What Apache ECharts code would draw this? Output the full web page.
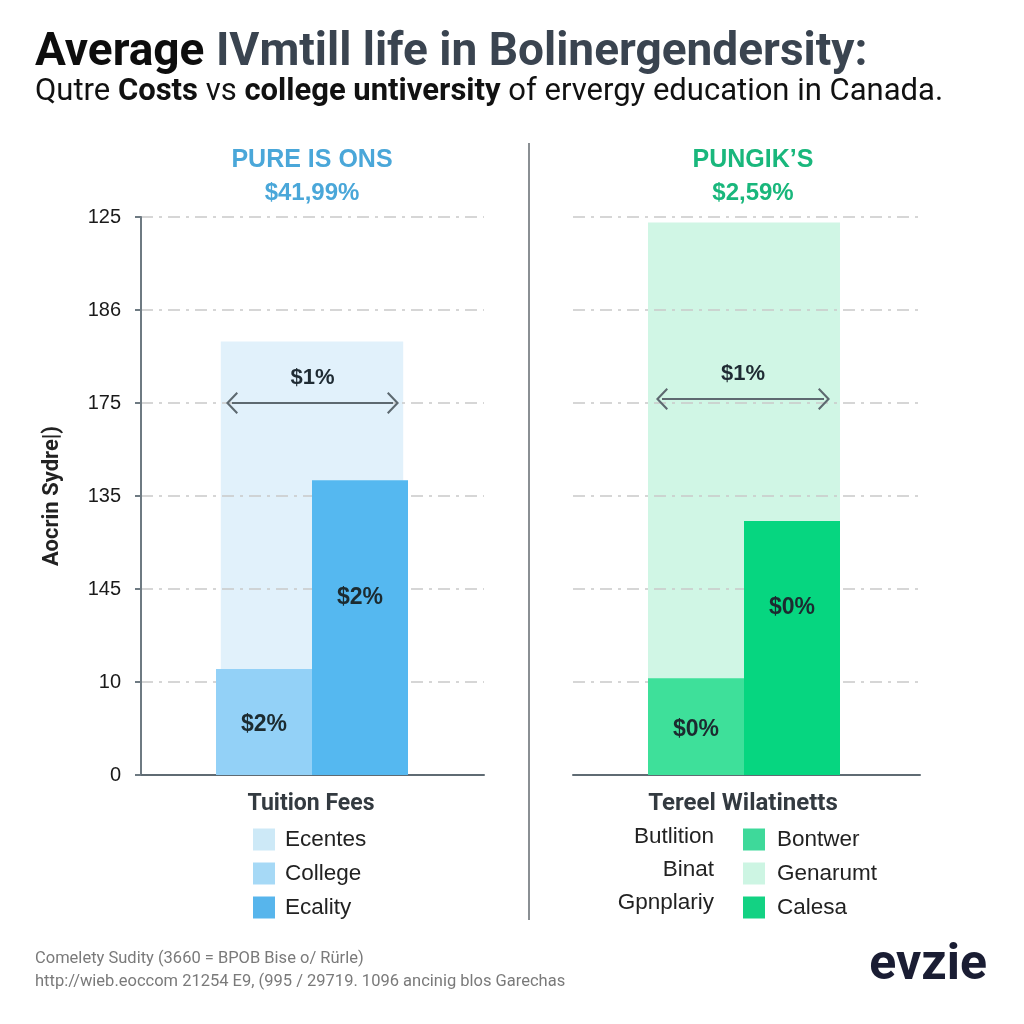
<!DOCTYPE html>
<html>
<head>
<meta charset="utf-8">
<script src="https://cdn.jsdelivr.net/npm/echarts@6/dist/echarts.min.js"></script>
<style>html,body{margin:0;padding:0;background:#fff}#c{width:1024px;height:1024px}</style>
</head>
<body>
<div id="c"></div>
<script>
// ---- data ----
const yTickLabels = ['0', '10', '145', '135', '175', '186', '125'];
const leftCats = ['College', 'Ecality'];
const leftBg = [4.66];
const leftCollege = [1.14, '-'];
const leftEcality = ['-', 3.17];
const leftBarLabels = ['$2%', '$2%'];
const rightCats = ['Bontwer', 'Calesa'];
const rightBg = [5.94];
const rightBontwer = [1.04, '-'];
const rightCalesa = ['-', 2.73];
const rightBarLabels = ['$0%', '$0%'];
const arrowLevel = 4;
const arrowLabel = '$1%';
const leftPanelTitle = ['PURE IS ONS', '$41,99%'];
const rightPanelTitle = ['PUNGIK\u2019S', '$2,59%'];
const leftLegendTitle = 'Tuition Fees';
const leftLegendItems = ['Ecentes', 'College', 'Ecality'];
const rightLegendTitle = 'Tereel Wilatinetts';
const rightLegendItems = ['Bontwer', 'Genarumt', 'Calesa'];
const rightLegendSideLabels = ['Butlition', 'Binat', 'Gpnplariy'];
const yAxisName = 'Aocrin Sydre|)';
const footerLines = ['Comelety Sudity (3660 = BPOB Bise o/ R\u00fcrle)', 'http://wieb.eoccom 21254 E9, (995 / 29719. 1096 ancinig blos Garechas'];
const logoText = 'evzie';

const chevron = 'path://M0,10 L10,0 L20,10 L18.6,11.4 L10,2.8 L1.4,11.4 Z';
const gridDash = [12, 6, 3, 6];
const FONT = '"Liberation Sans", Arial, sans-serif';
const TFONT = 'Roboto, "Liberation Sans", sans-serif';

function frameY(showLabels, gridIndex) {
  return {
    type: 'value', gridIndex: gridIndex, min: 0, max: 6, interval: 1,
    axisLine: { show: showLabels, lineStyle: { color: '#6e7a82', width: 2 } },
    axisTick: { show: showLabels, length: 6, lineStyle: { color: '#6e7a82', width: 2 } },
    axisLabel: { show: showLabels, margin: 20, fontSize: 20, color: '#1a1a1a', fontFamily: FONT,
      formatter: function (v) { return yTickLabels[v]; } },
    splitLine: { show: true, lineStyle: { color: '#c9c9c9', width: 1.5, type: gridDash } },
    name: showLabels ? yAxisName : '', nameLocation: 'middle', nameGap: 78, nameRotate: 90,
    nameTextStyle: { fontSize: 22, color: '#222', fontFamily: TFONT, fontWeight: 'bold' }
  };
}
function hiddenY(gridIndex) {
  return { type: 'value', gridIndex: gridIndex, min: 0, max: 6, interval: 1, show: false, splitLine: { show: false } };
}
function frameX(gridIndex) {
  return { type: 'category', gridIndex: gridIndex, data: ['f'],
    axisLine: { show: true, lineStyle: { color: '#5f6b73', width: 2 } },
    axisTick: { show: false }, axisLabel: { show: false } };
}
function hiddenX(gridIndex, data) {
  return { type: 'category', gridIndex: gridIndex, data: data, show: false };
}
function markArrow() {
  return {
    silent: true, symbol: [chevron, chevron], symbolSize: [22, 12],
    lineStyle: { color: '#5d6970', width: 2, type: 'solid' },
    label: { show: true, position: 'insideMiddleTop', distance: 14, formatter: arrowLabel,
      fontSize: 22, fontWeight: 'bold', color: '#1f2b33', fontFamily: FONT },
    data: [{ yAxis: arrowLevel }]
  };
}
function barLabel(labels, offset) {
  return { show: true, position: 'inside', offset: offset, fontSize: 23, fontWeight: 'bold', color: '#1c2b30', fontFamily: FONT,
    formatter: function (p) { return labels[p.dataIndex]; } };
}

const option = {
  backgroundColor: '#ffffff',
  animation: false,
  grid: [
    { left: 141, right: 540, top: 217, bottom: 249 },
    { left: 216, width: 192, top: 217, bottom: 249 },
    { left: 573, right: 104, top: 217, bottom: 249 },
    { left: 648, width: 192, top: 217, bottom: 249 },
    { left: 232, width: 161, top: 217, bottom: 249 },
    { left: 662, width: 162, top: 213, bottom: 253 }
  ],
  xAxis: [
    frameX(0), hiddenX(1, leftCats), hiddenX(1, ['bg']),
    frameX(2), hiddenX(3, rightCats), hiddenX(3, ['bg']),
    hiddenX(4, ['a']), hiddenX(5, ['a'])
  ],
  yAxis: [frameY(true, 0), hiddenY(1), frameY(false, 2), hiddenY(3), hiddenY(4), hiddenY(5)],
  legend: [
    { orient: 'vertical', left: 248, top: 823, itemWidth: 22, itemHeight: 22, itemGap: 11, icon: 'rect',
      selectedMode: false,
      textStyle: { fontSize: 22.5, color: '#222', fontFamily: FONT, padding: [0, 0, 0, 5] },
      data: [{ name: leftLegendItems[0], itemStyle: { color: '#cde9f7' } },
             { name: leftLegendItems[1], itemStyle: { color: '#a6d9f6' } },
             { name: leftLegendItems[2], itemStyle: { color: '#57b5ec' } }] },
    { orient: 'vertical', left: 738, top: 823, itemWidth: 22, itemHeight: 22, itemGap: 11, icon: 'rect',
      selectedMode: false,
      textStyle: { fontSize: 22.5, color: '#222', fontFamily: FONT, padding: [0, 0, 0, 7] },
      data: [{ name: rightLegendItems[0], itemStyle: { color: '#3ed99a' } },
             { name: rightLegendItems[1], itemStyle: { color: '#cdf5e3' } },
             { name: rightLegendItems[2], itemStyle: { color: '#13d283' } }] }
  ],
  series: [
    { name: 'Ecentes', type: 'bar', xAxisIndex: 2, yAxisIndex: 1, data: leftBg, barWidth: '95%', z: -1,
      itemStyle: { color: '#e1f1fb' } },
    { name: 'College', type: 'bar', xAxisIndex: 1, yAxisIndex: 1, data: leftCollege, barWidth: '100%', barGap: '-100%',
      itemStyle: { color: '#93d1f7' }, label: barLabel(leftBarLabels, [0, 3]) },
    { name: 'Ecality', type: 'bar', xAxisIndex: 1, yAxisIndex: 1, data: leftEcality, barWidth: '100%', barGap: '-100%',
      itemStyle: { color: '#55b8f0' }, label: barLabel(leftBarLabels, [0, -30]) },
    { name: 'Genarumt', type: 'bar', xAxisIndex: 5, yAxisIndex: 3, data: rightBg, barWidth: '100%', z: -1,
      itemStyle: { color: '#d0f6e5' } },
    { name: 'Bontwer', type: 'bar', xAxisIndex: 4, yAxisIndex: 3, data: rightBontwer, barWidth: '100%', barGap: '-100%',
      itemStyle: { color: '#3ee09a' }, label: barLabel(rightBarLabels, [0, 3]) },
    { name: 'Calesa', type: 'bar', xAxisIndex: 4, yAxisIndex: 3, data: rightCalesa, barWidth: '100%', barGap: '-100%',
      itemStyle: { color: '#06d680' }, label: barLabel(rightBarLabels, [0, -40]) },
    { type: 'bar', xAxisIndex: 6, yAxisIndex: 4, data: [], markLine: markArrow() },
    { type: 'bar', xAxisIndex: 7, yAxisIndex: 5, data: [], markLine: markArrow() }
  ],
  graphic: [
    { type: 'text', left: 35, top: 30, style: {
        text: '{a|Average }{b|IVmtill life in Bolinergendersity:}',
        rich: { a: { fontSize: 46, fontWeight: 'bold', fill: '#0d0d0d', fontFamily: TFONT },
                b: { fontSize: 46, fontWeight: 'bold', fill: '#3a4450', fontFamily: TFONT } } } },
    { type: 'text', left: 35, top: 77, style: {
        text: '{n|Qutre }{b|Costs}{n| vs }{b|college untiversity}{n| of ervergy education in Canada.}',
        rich: { n: { fontSize: 31, fill: '#111', fontFamily: TFONT },
                b: { fontSize: 31, fontWeight: 'bold', fill: '#111', fontFamily: TFONT } } } },
    { type: 'line', shape: { x1: 529, y1: 143, x2: 529, y2: 920 }, style: { stroke: '#8a8f93', lineWidth: 2 } },
    { type: 'text', x: 312, y: 160, style: { text: leftPanelTitle[0], fill: '#4aa7d9', fontSize: 25, fontWeight: 'bold', fontFamily: FONT, textAlign: 'center', textVerticalAlign: 'middle' } },
    { type: 'text', x: 312, y: 193, style: { text: leftPanelTitle[1], fill: '#4aa7d9', fontSize: 24, fontWeight: 'bold', fontFamily: FONT, textAlign: 'center', textVerticalAlign: 'middle' } },
    { type: 'text', x: 753, y: 160, style: { text: rightPanelTitle[0], fill: '#19b77c', fontSize: 25, fontWeight: 'bold', fontFamily: FONT, textAlign: 'center', textVerticalAlign: 'middle' } },
    { type: 'text', x: 753, y: 193, style: { text: rightPanelTitle[1], fill: '#19b77c', fontSize: 24, fontWeight: 'bold', fontFamily: FONT, textAlign: 'center', textVerticalAlign: 'middle' } },
    { type: 'text', x: 311, y: 804, style: { text: leftLegendTitle, fill: '#333a40', fontSize: 23, fontWeight: 'bold', fontFamily: TFONT, textAlign: 'center', textVerticalAlign: 'middle' } },
    { type: 'text', x: 743, y: 804, style: { text: rightLegendTitle, fill: '#333a40', fontSize: 24, fontWeight: 'bold', fontFamily: TFONT, textAlign: 'center', textVerticalAlign: 'middle' } },
    { type: 'text', x: 714, y: 837, style: { text: rightLegendSideLabels[0], fill: '#222', fontSize: 22.5, fontFamily: FONT, textAlign: 'right', textVerticalAlign: 'middle' } },
    { type: 'text', x: 714, y: 870, style: { text: rightLegendSideLabels[1], fill: '#222', fontSize: 22.5, fontFamily: FONT, textAlign: 'right', textVerticalAlign: 'middle' } },
    { type: 'text', x: 714, y: 903, style: { text: rightLegendSideLabels[2], fill: '#222', fontSize: 22.5, fontFamily: FONT, textAlign: 'right', textVerticalAlign: 'middle' } },
    { type: 'text', x: 35, y: 959, style: { text: footerLines[0], fill: '#7a7a7a', fontSize: 16.5, fontFamily: TFONT, textVerticalAlign: 'middle' } },
    { type: 'text', x: 35, y: 982, style: { text: footerLines[1], fill: '#7a7a7a', fontSize: 16.5, fontFamily: TFONT, textVerticalAlign: 'middle' } },
    { type: 'text', x: 987, y: 966, style: { text: logoText, fill: '#1a1d33', fontSize: 50, fontWeight: 'bold', fontFamily: TFONT, textAlign: 'right', textVerticalAlign: 'middle' } }
  ]
};
echarts.init(document.getElementById('c')).setOption(option);
</script>
</body>
</html>
